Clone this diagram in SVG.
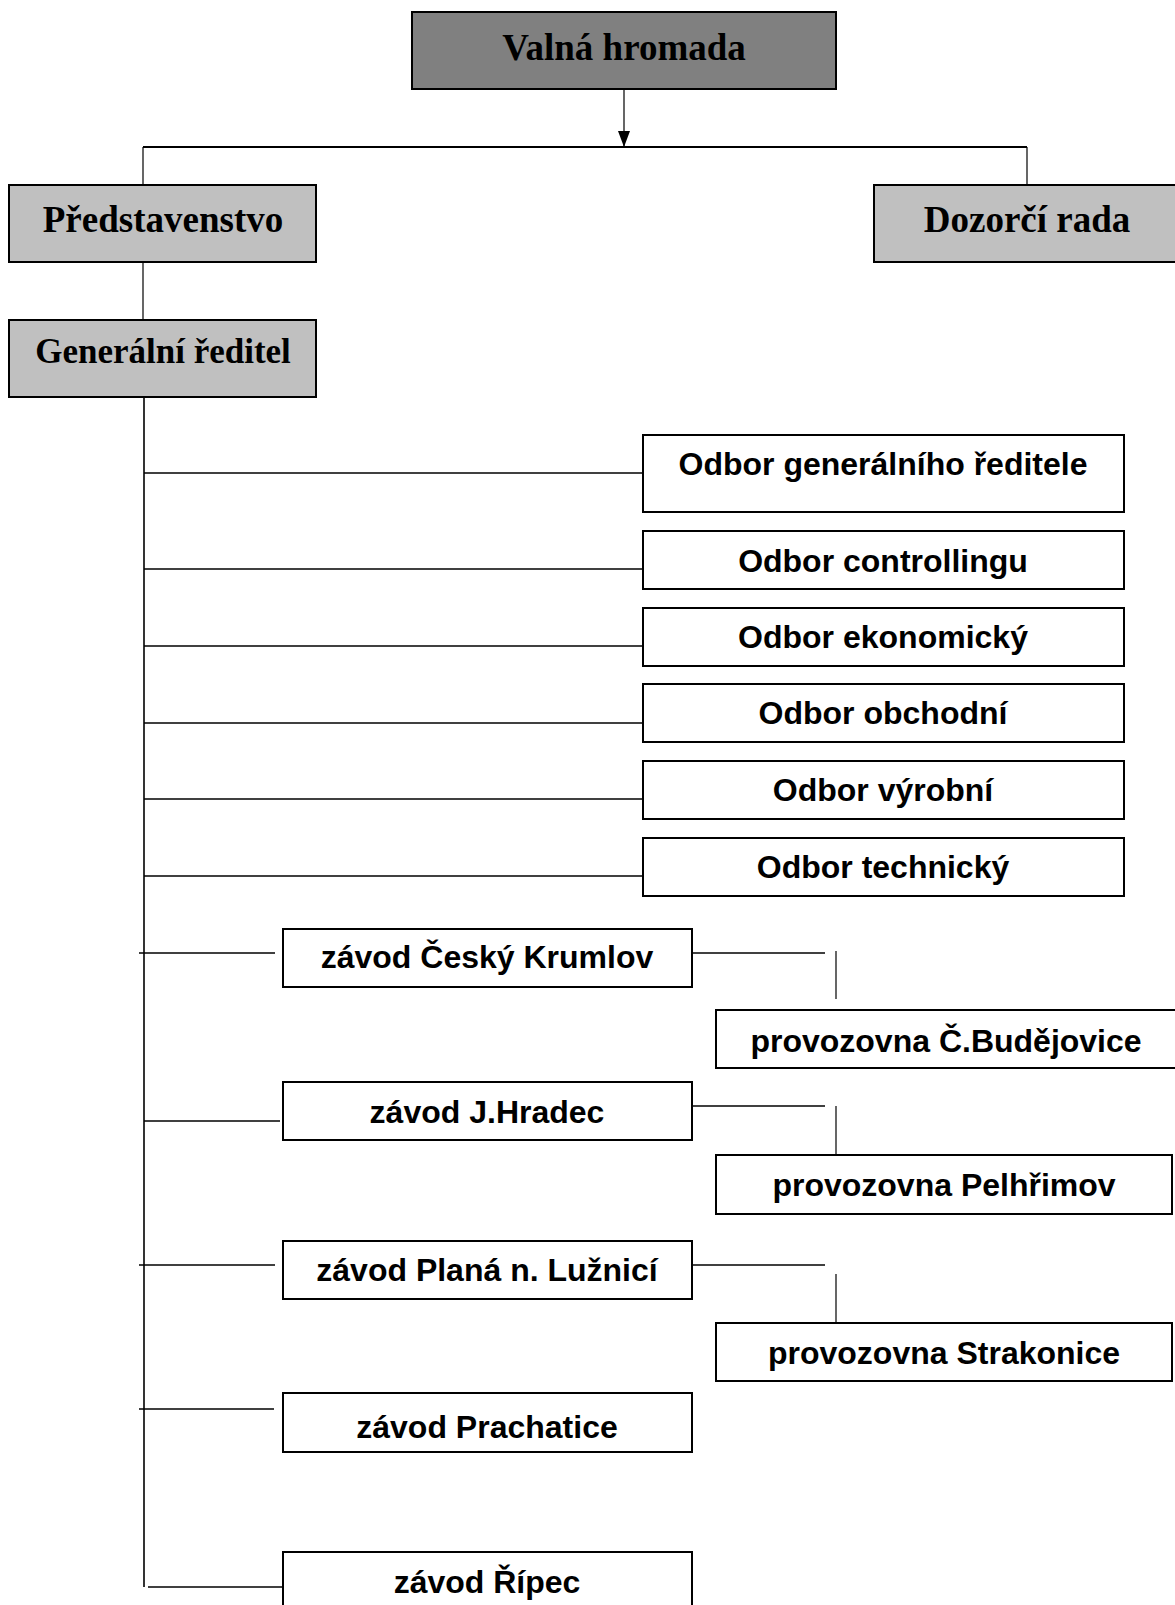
<svg xmlns="http://www.w3.org/2000/svg" width="1175" height="1605" viewBox="0 0 1175 1605">
<defs>
<style>
.box{stroke:#000;stroke-width:2}
.dark{fill:#808080}
.grey{fill:#c0c0c0}
.white{fill:#fff}
.ser{font-family:"Liberation Serif","Times New Roman",serif;font-weight:bold;font-size:37px;text-anchor:middle;fill:#000}
.san{font-family:"Liberation Sans",Arial,sans-serif;font-weight:bold;font-size:32px;text-anchor:middle;fill:#000}
.ln{stroke:#000;stroke-width:1.6;fill:none}
.thin{stroke:#000;stroke-width:1.2;fill:none}
</style>
<marker id="arr" viewBox="0 0 16 12" refX="16" refY="6" markerWidth="16" markerHeight="12" markerUnits="userSpaceOnUse" orient="auto">
<path d="M0,0 L16,6 L0,12 Z" fill="#000"/>
</marker>
</defs>
<rect width="1175" height="1605" fill="#fff"/>
<g id="connectors">
<line class="thin" x1="624" y1="89" x2="624" y2="147" marker-end="url(#arr)"/>
<line class="ln" x1="143" y1="147" x2="1027" y2="147" style="stroke-width:2"/>
<line class="thin" x1="143" y1="147" x2="143" y2="185"/>
<line class="thin" x1="1027" y1="147" x2="1027" y2="185"/>
<line class="thin" x1="143" y1="262" x2="143" y2="320"/>
<line class="ln" x1="144" y1="397" x2="144" y2="1587"/>
<line class="ln" x1="144" y1="473" x2="643" y2="473"/>
<line class="ln" x1="144" y1="569" x2="643" y2="569"/>
<line class="ln" x1="144" y1="646" x2="643" y2="646"/>
<line class="ln" x1="144" y1="723" x2="643" y2="723"/>
<line class="ln" x1="144" y1="799" x2="643" y2="799"/>
<line class="ln" x1="144" y1="876" x2="643" y2="876"/>
<line class="ln" x1="139" y1="953" x2="275" y2="953"/>
<line class="ln" x1="144" y1="1121" x2="280" y2="1121"/>
<line class="ln" x1="139" y1="1265" x2="275" y2="1265"/>
<line class="ln" x1="139" y1="1409" x2="274" y2="1409"/>
<line class="ln" x1="148" y1="1587" x2="284" y2="1587"/>
<line class="ln" x1="692" y1="953" x2="825" y2="953"/>
<line class="thin" x1="836" y1="951" x2="836" y2="999"/>
<line class="ln" x1="692" y1="1106" x2="825" y2="1106"/>
<line class="thin" x1="836" y1="1106" x2="836" y2="1155"/>
<line class="ln" x1="692" y1="1265" x2="825" y2="1265"/>
<line class="thin" x1="836" y1="1274" x2="836" y2="1323"/>
</g>
<g id="valna-hromada"><rect class="box dark" x="412" y="12" width="424" height="77"/><text class="ser" x="624" y="60">Valná hromada</text></g>
<g id="predstavenstvo"><rect class="box grey" x="9" y="185" width="307" height="77"/><text class="ser" x="163" y="232">Představenstvo</text></g>
<g id="dozorci-rada"><rect class="box grey" x="874" y="185" width="310" height="77"/><text class="ser" x="1027" y="232">Dozorčí rada</text></g>
<g id="generalni-reditel"><rect class="box grey" x="9" y="320" width="307" height="77"/><text class="ser" x="163" y="363" style="font-size:35px">Generální ředitel</text></g>
<g id="odbor-gr"><rect class="box white" x="643" y="435" width="481" height="77"/><text class="san" x="883" y="475">Odbor generálního ředitele</text></g>
<g id="odbor-controllingu"><rect class="box white" x="643" y="531" width="481" height="58"/><text class="san" x="883" y="572">Odbor controllingu</text></g>
<g id="odbor-ekonomicky"><rect class="box white" x="643" y="608" width="481" height="58"/><text class="san" x="883" y="648">Odbor ekonomický</text></g>
<g id="odbor-obchodni"><rect class="box white" x="643" y="684" width="481" height="58"/><text class="san" x="883" y="724">Odbor obchodní</text></g>
<g id="odbor-vyrobni"><rect class="box white" x="643" y="761" width="481" height="58"/><text class="san" x="883" y="801">Odbor výrobní</text></g>
<g id="odbor-technicky"><rect class="box white" x="643" y="838" width="481" height="58"/><text class="san" x="883" y="878">Odbor technický</text></g>
<g id="zavod-ck"><rect class="box white" x="283" y="929" width="409" height="58"/><text class="san" x="487" y="968">závod Český Krumlov</text></g>
<g id="provozovna-cb"><rect class="box white" x="716" y="1010" width="470" height="58"/><text class="san" x="946" y="1052">provozovna Č.Budějovice</text></g>
<g id="zavod-jh"><rect class="box white" x="283" y="1082" width="409" height="58"/><text class="san" x="487" y="1123">závod J.Hradec</text></g>
<g id="provozovna-pelhrimov"><rect class="box white" x="716" y="1155" width="456" height="59"/><text class="san" x="944" y="1196">provozovna Pelhřimov</text></g>
<g id="zavod-plana"><rect class="box white" x="283" y="1241" width="409" height="58"/><text class="san" x="487" y="1281">závod Planá n. Lužnicí</text></g>
<g id="provozovna-strakonice"><rect class="box white" x="716" y="1323" width="456" height="58"/><text class="san" x="944" y="1364">provozovna Strakonice</text></g>
<g id="zavod-prachatice"><rect class="box white" x="283" y="1393" width="409" height="59"/><text class="san" x="487" y="1438">závod Prachatice</text></g>
<g id="zavod-ripec"><rect class="box white" x="283" y="1552" width="409" height="80"/><text class="san" x="487" y="1593">závod Řípec</text></g>
</svg>
